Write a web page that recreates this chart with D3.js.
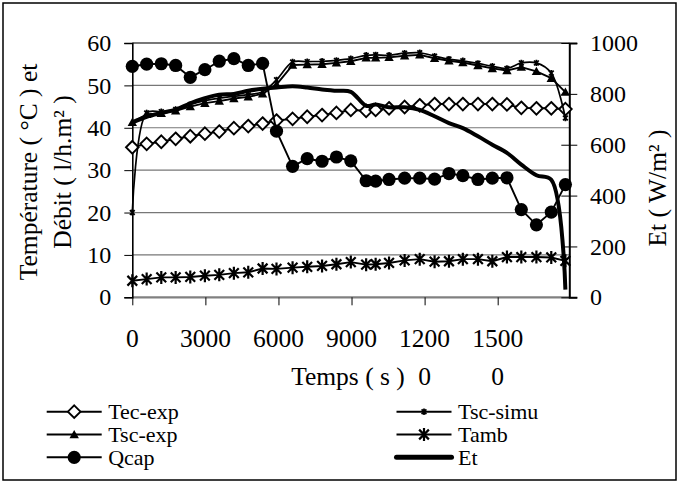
<!DOCTYPE html>
<html>
<head>
<meta charset="utf-8">
<script src="https://cdn.jsdelivr.net/npm/d3@7/dist/d3.min.js"></script>
<style>
  html, body { margin: 0; padding: 0; background: #fff; }
  svg { display: block; }
</style>
</head>
<body>
<svg id="chart" width="682" height="483" font-family="'Liberation Serif', Tinos, 'Times New Roman', 'DejaVu Serif', serif"></svg>
<script>
// ---------- data ----------
const times   = [0,590,1190,1780,2380,2980,3570,4170,4760,5350,5920,6580,7180,7790,8380,8970,9600,9990,10540,11180,11800,12410,13000,13570,14190,14780,15380,15970,16590,17200,17780];
const tecExp  = [35.4,36.2,36.7,37.4,38.0,38.6,39.1,39.9,40.4,41.0,41.7,42.1,42.6,43.0,43.5,44.2,44.0,44.2,44.6,44.9,45.3,45.6,45.6,45.6,45.6,45.6,45.5,44.7,44.6,44.6,44.4];
const tscExp  = [41.3,43.2,43.4,44.0,45.0,45.8,46.3,46.9,47.3,48.0,50.2,54.8,54.9,55.0,55.3,55.7,56.5,56.5,56.6,57.0,57.2,56.4,55.8,55.4,54.7,54.0,53.5,54.3,53.3,51.7,48.4];
const tscSimu = [20.0,43.5,43.8,44.3,45.5,46.4,47.0,47.4,47.8,48.5,51.3,55.5,55.6,55.7,55.9,56.3,57.1,57.2,57.1,57.6,57.7,56.9,56.2,55.8,55.2,54.5,54.0,55.3,55.3,52.9,42.3];
const tamb    = [3.9,4.3,4.7,4.7,4.8,5.1,5.3,5.7,5.9,6.8,6.7,7.0,7.2,7.4,7.8,8.3,7.7,7.8,8.1,8.7,9.0,8.4,8.5,9.0,9.0,8.5,9.5,9.5,9.5,9.4,8.6];
const qcap    = [54.5,55.0,55.1,54.7,51.9,53.7,55.7,56.3,54.7,55.2,39.2,30.9,32.7,32.1,33.1,32.2,27.5,27.4,27.8,28.1,28.1,27.9,29.2,28.7,27.8,28.1,28.2,20.7,17.1,20.1,26.6];
const et      = [688,710,725,738,763,783,797,800,812,820,825,830,825,817,812,808,753,758,747,747,737,712,685,665,633,600,568,522,480,462,30];

const xTicks = [0,3000,6000,9000,12000,15000];
const yLeftTicks = [0,10,20,30,40,50,60];
const yRightTicks = [0,200,400,600,800,1000];
const seriesNames = ["Tec-exp","Tsc-exp","Qcap","Tsc-simu","Tamb","Et"];
const yLeftTitle = ["Température ( °C ) et","Débit ( l/h.m² )"];
const yRightTitle = "Et ( W/m² )";
const xTitle = "Temps ( s )";

const FONT = "'Liberation Serif', Tinos, 'Times New Roman', 'DejaVu Serif', serif";

// ---------- layout ----------
const svg = d3.select("#chart");
const L = 132.3, R = 569.3, T = 43, B = 297.3;
const x = d3.scaleLinear().domain([0,17940]).range([L,R]);
const yL = d3.scaleLinear().domain([0,60]).range([B,T]);
const yR = d3.scaleLinear().domain([0,1000]).range([B,T]);

function txt(g){ return g.append("text").attr("font-family",FONT).attr("fill","#000"); }

// outer border
svg.append("rect").attr("x",3).attr("y",3).attr("width",673).attr("height",477)
  .attr("fill","none").attr("stroke","#000").attr("stroke-width",1.5);

// gridlines
svg.append("g").selectAll("line").data(yLeftTicks.filter(d=>d>0)).join("line")
  .attr("x1",L).attr("x2",R).attr("y1",d=>yL(d)).attr("y2",d=>yL(d))
  .attr("stroke","#777").attr("stroke-width",d=>d===60?2:1.2);
svg.append("line").attr("x1",L).attr("x2",R).attr("y1",B).attr("y2",B)
  .attr("stroke","#808080").attr("stroke-width",2.2);

// x axis
const gx = svg.append("g").attr("transform",`translate(0,${B})`)
  .call(d3.axisBottom(x).tickValues(xTicks).tickSize(8).tickFormat(""));
gx.select(".domain").remove();
gx.selectAll(".tick line").attr("stroke","#000").attr("stroke-width",1);
const xl = svg.append("g");
xTicks.forEach(v => {
  const s = String(v);
  const first = s.length > 4 ? s.slice(0,4) : s;
  txt(xl).attr("x",x(v)).attr("y",346.7).attr("text-anchor","middle").attr("font-size","25.5px").text(first);
  if (s.length > 4) txt(xl).attr("x",x(v)).attr("y",385).attr("text-anchor","middle").attr("font-size","25.5px").text(s.slice(4));
});
txt(svg).attr("x",348).attr("y",385).attr("text-anchor","middle").attr("font-size","25.5px").text(xTitle);

// left axis
const gl = svg.append("g").attr("transform",`translate(${L},0)`)
  .call(d3.axisLeft(yL).tickValues(yLeftTicks).tickSize(8).tickPadding(13).tickFormat(d3.format("d")));
gl.attr("font-family",FONT).attr("font-size",24);
gl.select(".domain").attr("stroke","#000").attr("stroke-width",1.6);
gl.selectAll(".tick line").attr("stroke","#000").attr("stroke-width",1);
gl.selectAll(".tick text").attr("fill","#000");

// right axis
const gr = svg.append("g").attr("transform",`translate(${R},0)`)
  .call(d3.axisRight(yR).tickValues(yRightTicks).tickSize(8).tickPadding(12.7).tickFormat(d3.format("d")));
gr.attr("font-family",FONT).attr("font-size",24);
gr.select(".domain").attr("stroke","#000").attr("stroke-width",2);
gr.selectAll(".tick line").attr("x1",-8).attr("stroke","#000").attr("stroke-width",1);
gr.selectAll(".tick text").attr("fill","#000");

// axis titles
txt(svg).attr("transform","translate(37,172) rotate(-90)").attr("text-anchor","middle").attr("font-size","25.5px").text(yLeftTitle[0]);
txt(svg).attr("transform","translate(71,172) rotate(-90)").attr("text-anchor","middle").attr("font-size","25.5px").text(yLeftTitle[1]);
txt(svg).attr("transform","translate(666,188) rotate(-90)").attr("text-anchor","middle").attr("font-size","25.5px").text(yRightTitle);

// ---------- markers ----------
const diamondPath = "M0,-6.3L6.3,0L0,6.3L-6.3,0Z";
const trianglePath = "M0,-4.6L4.7,3.7L-4.7,3.7Z";
function starPath(r){ const k=r*0.75; return `M0,${-r}V${r}M${-k},${-k}L${k},${k}M${-k},${k}L${k},${-k}`; }

function drawSeries(vals, yScale, opt){
  const pts = times.map((t,i)=>[x(t), yScale(vals[i])]);
  const line = d3.line().curve(opt.curve || d3.curveLinear);
  svg.append("path").attr("d",line(pts)).attr("fill","none")
    .attr("stroke","#000").attr("stroke-width",opt.lw).attr("stroke-linejoin","round");
  if (!opt.marker) return;
  const g = svg.append("g");
  pts.forEach(p => drawMarker(g, opt.marker, p[0], p[1]));
}
function drawMarker(g, type, px, py){
  if (type==="diamond") g.append("path").attr("d",diamondPath).attr("transform",`translate(${px},${py})`)
      .attr("fill","#fff").attr("stroke","#000").attr("stroke-width",1.9);
  else if (type==="triangle") g.append("path").attr("d",trianglePath).attr("transform",`translate(${px},${py})`)
      .attr("fill","#000");
  else if (type==="circle") g.append("circle").attr("cx",px).attr("cy",py).attr("r",6.6).attr("fill","#000");
  else if (type==="star") g.append("path").attr("d",starPath(6.5)).attr("transform",`translate(${px},${py})`)
      .attr("stroke","#000").attr("stroke-width",2.2).attr("fill","none");
  else if (type==="smallstar") g.append("path").attr("d",starPath(3.2)).attr("transform",`translate(${px},${py})`)
      .attr("stroke","#000").attr("stroke-width",1.7).attr("fill","none");
}

drawSeries(tecExp, yL, {lw:1.9, marker:"diamond"});
drawSeries(tscExp, yL, {lw:1.9, marker:"triangle"});
drawSeries(tscSimu, yL, {lw:1.7, marker:"smallstar", curve:d3.curveCatmullRom});
drawSeries(tamb, yL, {lw:1.9, marker:"star"});
drawSeries(qcap, yL, {lw:1.9, marker:"circle"});
drawSeries(et, yR, {lw:4, curve:d3.curveCatmullRom});

// ---------- legend ----------
const legendItems = [
  {name:seriesNames[0], marker:"diamond", col:0, row:0, lw:2},
  {name:seriesNames[1], marker:"triangle", col:0, row:1, lw:2},
  {name:seriesNames[2], marker:"circle", col:0, row:2, lw:2},
  {name:seriesNames[3], marker:"smallstar", col:1, row:0, lw:2},
  {name:seriesNames[4], marker:"star", col:1, row:1, lw:2},
  {name:seriesNames[5], marker:null, col:1, row:2, lw:5}
];
const colX = [46.7, 396.5], rowY = [411.7, 434.5, 457.3];
const lg = svg.append("g");
legendItems.forEach(it => {
  const x0 = colX[it.col], y0 = rowY[it.row];
  lg.append("line").attr("x1",x0).attr("x2",x0+55).attr("y1",y0).attr("y2",y0)
    .attr("stroke","#000").attr("stroke-width",it.lw).attr("stroke-linecap", it.marker? "butt":"round");
  if (it.marker) drawMarker(lg, it.marker, x0+27.5, y0);
  txt(lg).attr("x",x0+61.5).attr("y",y0+7.5).attr("font-size","22px").text(it.name);
});
</script>
</body>
</html>
